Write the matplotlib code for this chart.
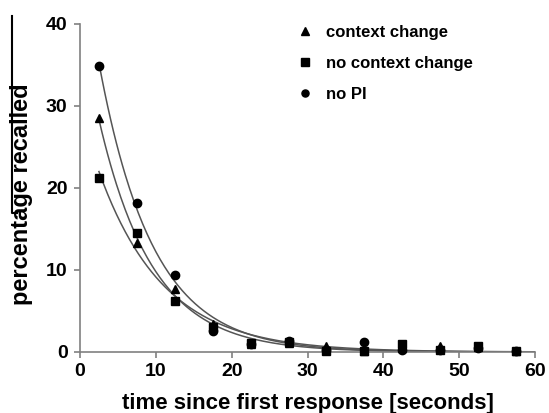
import matplotlib
matplotlib.use("Agg")
import matplotlib.pyplot as plt
from matplotlib.lines import Line2D
import numpy as np

plt.rcParams['font.family'] = ['Liberation Sans', 'DejaVu Sans']
plt.rcParams['font.weight'] = 'bold'

# time bins (seconds since first response)
time = [2.5, 7.5, 12.5, 17.5, 22.5, 27.5, 32.5, 37.5, 42.5, 47.5, 52.5, 57.5]

context_change = [28.5, 13.3, 7.7, 3.4, 1.0, 1.1, 0.7, 0.1, 0.5, 0.7, 0.6, 0.1]
no_context_change = [21.2, 14.5, 6.2, 3.0, 1.1, 1.2, 0.1, 0.1, 1.0, 0.2, 0.7, 0.1]
no_pi = [34.9, 18.2, 9.4, 2.6, 1.0, 1.3, 0.3, 1.2, 0.3, 0.2, 0.5, 0.1]


def exp_fit(x, y):
    # least-squares fit of y = a * exp(-b x), scanning b
    x = np.asarray(x)
    y = np.asarray(y)
    best = None
    for b in np.linspace(0.01, 0.5, 4901):
        e = np.exp(-b * x)
        a = np.sum(y * e) / np.sum(e * e)
        r = np.sum((y - a * e) ** 2)
        if best is None or r < best[0]:
            best = (r, a, b)
    return best[1], best[2]


W, H = 549, 413
fig = plt.figure(figsize=(W / 100, H / 100), dpi=100)
ax = fig.add_axes([80 / W, 1 - 352 / H, 455 / W, 328 / H])

xs = np.linspace(2.5, 60, 300)
series = [(context_change, '^', 'context change'),
          (no_context_change, 's', 'no context change'),
          (no_pi, 'o', 'no PI')]
for values, marker, label in series:
    a, b = exp_fit(time, values)
    ax.plot(xs, a * np.exp(-b * xs), color='#555555', lw=1.1, zorder=2)
for values, marker, label in series:
    ax.plot(time, values, marker, color='black', ms=6, label=label,
            clip_on=False, zorder=3)

ax.set_xlim(0, 60)
ax.set_ylim(0, 40)
ax.set_xticks(range(0, 61, 10))
ax.set_yticks(range(0, 41, 10))
for side in ['top', 'right']:
    ax.spines[side].set_visible(False)
for side in ['left', 'bottom']:
    ax.spines[side].set_color('#808080')
    ax.spines[side].set_linewidth(1.2)
ax.tick_params(direction='out', length=4, width=1.2, color='#808080',
               labelsize=14)
ax.tick_params(axis='x', pad=4)
ax.tick_params(axis='y', pad=5)
for lab in ax.get_xticklabels() + ax.get_yticklabels():
    lab.set_fontweight('bold')

ax.set_xlabel('time since first response [seconds]', fontsize=16,
              fontweight='bold', labelpad=9)
ax.set_ylabel('percentage recalled', fontsize=17, fontweight='bold')
ax.yaxis.set_label_coords(-47 / 455, 0.48)

ax.legend(loc='upper left', bbox_to_anchor=(298.5 / W, 1 - 25 / H),
          bbox_transform=fig.transFigure, frameon=False, borderpad=0,
          borderaxespad=0, prop={'size': 12, 'weight': 'bold'},
          markerscale=0.85, handlelength=0.8, handletextpad=0.85,
          labelspacing=0.95)

# stray bracket line at the left edge of the original figure
fig.add_artist(Line2D([11.5 / W, 11.5 / W, 17 / W],
                      [1 - 16 / H, 1 - 213 / H, 1 - 213 / H],
                      transform=fig.transFigure, color='black', lw=1.5))

fig.savefig('out.png', dpi=100)
